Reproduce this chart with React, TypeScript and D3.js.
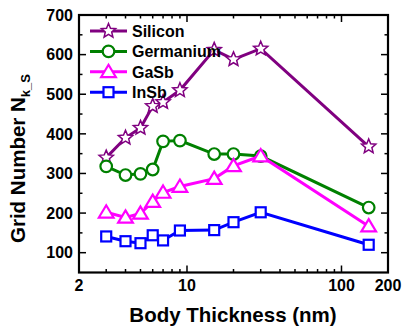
import React from 'react';
import * as d3 from 'd3';

// body thickness (nm) shared by every series
const thickness = [3, 4, 5, 6, 7, 9, 15, 20, 30, 150];

const silicon = [340, 390, 415, 470, 480, 510, 612, 588, 615, 368];
const germanium = [318, 296, 299, 310, 381, 383, 349, 349, 344, 214];
const gasb = [202, 189, 199, 229, 252, 267, 287, 319, 344, 167];
const insb = [141, 129, 124, 144, 131, 156, 157, 177, 202, 120];

const seriesNames = ['Silicon', 'Germanium', 'GaSb', 'InSb'];
const seriesColors = ['#800080', '#008000', '#ff00ff', '#0000ff'];
const seriesMarkers = ['star', 'circle', 'triangle', 'square'];

const xTickLabels = [2, 10, 100, 200];
const xMajorTicks = [10, 100];
const xMinorTicks = [3, 4, 5, 6, 7, 8, 9, 20, 30, 40, 50, 60, 70, 80, 90];
const yTickLabels = [100, 200, 300, 400, 500, 600, 700];
const yMinorTicks = [150, 250, 350, 450, 550, 650];

const W = 402;
const H = 332;
const margin = { left: 79, right: 14, top: 15, bottom: 59.5 };
const font = '"Liberation Sans", Arial, sans-serif';

function starPath(R: number) {
  const r = R * 0.45;
  const pts: string[] = [];
  for (let i = 0; i < 10; i++) {
    const a = -Math.PI / 2 + (i * Math.PI) / 5;
    const rad = i % 2 === 0 ? R : r;
    pts.push(`${(rad * Math.cos(a)).toFixed(2)},${(rad * Math.sin(a)).toFixed(2)}`);
  }
  return 'M' + pts.join('L') + 'Z';
}

function Marker({ kind, color, x, y }: { kind: string; color: string; x: number; y: number }) {
  const common = { fill: '#fff', stroke: color };
  if (kind === 'star') {
    return <path d={starPath(7.5)} transform={`translate(${x},${y})`} {...common} strokeWidth={1.5} />;
  }
  if (kind === 'circle') {
    return <circle cx={x} cy={y} r={5.8} {...common} strokeWidth={2.2} />;
  }
  if (kind === 'triangle') {
    const s = 7;
    return (
      <path
        d={`M0,${-s}L${s * 1.05},${s * 0.75}L${-s * 1.05},${s * 0.75}Z`}
        transform={`translate(${x},${y})`}
        {...common}
        strokeWidth={2.2}
      />
    );
  }
  return <rect x={x - 5} y={y - 5} width={10} height={10} {...common} strokeWidth={2.2} />;
}

export default function App() {
  const x = d3.scaleLog().domain([2, 200]).range([margin.left, W - margin.right]);
  const y = d3.scaleLinear().domain([50, 700]).range([H - margin.bottom, margin.top]);
  const x0 = margin.left;
  const x1 = W - margin.right;
  const y0 = H - margin.bottom;
  const y1 = margin.top;

  const data = [silicon, germanium, gasb, insb];
  const line = d3
    .line<number>()
    .x((_, i) => x(thickness[i]))
    .y((d) => y(d));

  return (
    <svg width={W} height={H} style={{ position: 'absolute', left: 0, top: 0 }} fontFamily={font}>
      <rect width={W} height={H} fill="#fff" />

      {/* series */}
      {data.map((vals, si) => (
        <g key={seriesNames[si]}>
          <path d={line(vals) || ''} fill="none" stroke={seriesColors[si]} strokeWidth={3} />
          {vals.map((v, i) => (
            <Marker key={i} kind={seriesMarkers[si]} color={seriesColors[si]} x={x(thickness[i])} y={y(v)} />
          ))}
        </g>
      ))}

      {/* ticks, pointing inward on all four sides */}
      <g stroke="#000" strokeWidth={1.5}>
        {xMajorTicks.map((t) => (
          <g key={'xM' + t}>
            <line x1={x(t)} x2={x(t)} y1={y0} y2={y0 - 7} />
            <line x1={x(t)} x2={x(t)} y1={y1} y2={y1 + 7} />
          </g>
        ))}
        {xMinorTicks.map((t) => (
          <g key={'xm' + t}>
            <line x1={x(t)} x2={x(t)} y1={y0} y2={y0 - 3.5} />
            <line x1={x(t)} x2={x(t)} y1={y1} y2={y1 + 3.5} />
          </g>
        ))}
        {yTickLabels.map((t) => (
          <g key={'yM' + t}>
            <line x1={x0} x2={x0 + 7} y1={y(t)} y2={y(t)} />
            <line x1={x1} x2={x1 - 7} y1={y(t)} y2={y(t)} />
          </g>
        ))}
        {yMinorTicks.map((t) => (
          <g key={'ym' + t}>
            <line x1={x0} x2={x0 + 3.5} y1={y(t)} y2={y(t)} />
            <line x1={x1} x2={x1 - 3.5} y1={y(t)} y2={y(t)} />
          </g>
        ))}
      </g>

      {/* frame */}
      <rect x={x0} y={y1} width={x1 - x0} height={y0 - y1} fill="none" stroke="#000" strokeWidth={2.2} />

      {/* tick labels */}
      <g fontSize={16} fontWeight="bold" fill="#000">
        {xTickLabels.map((t) => (
          <text key={'xl' + t} x={x(t)} y={291} textAnchor="middle">
            {t}
          </text>
        ))}
        {yTickLabels.map((t) => (
          <text key={'yl' + t} x={73} y={y(t)} dy="0.36em" textAnchor="end">
            {t}
          </text>
        ))}
      </g>

      {/* axis titles */}
      <text x={233} y={322} textAnchor="middle" fontSize={20.5} fontWeight="bold">
        Body Thickness (nm)
      </text>
      <text transform="translate(25,243) rotate(-90)" fontSize={20.5} fontWeight="bold">
        Grid Number N
        <tspan fontSize={13} dy={5}>
          k_S
        </tspan>
      </text>

      {/* legend */}
      <g>
        {seriesNames.map((name, i) => {
          const ly = 31 + i * 20.4;
          return (
            <g key={'lg' + name}>
              <line x1={90} x2={127} y1={ly} y2={ly} stroke={seriesColors[i]} strokeWidth={3} />
              <Marker kind={seriesMarkers[i]} color={seriesColors[i]} x={108.5} y={ly} />
              <text x={132} y={ly} dy="0.36em" fontSize={16} fontWeight="bold">
                {name}
              </text>
            </g>
          );
        })}
      </g>
    </svg>
  );
}
